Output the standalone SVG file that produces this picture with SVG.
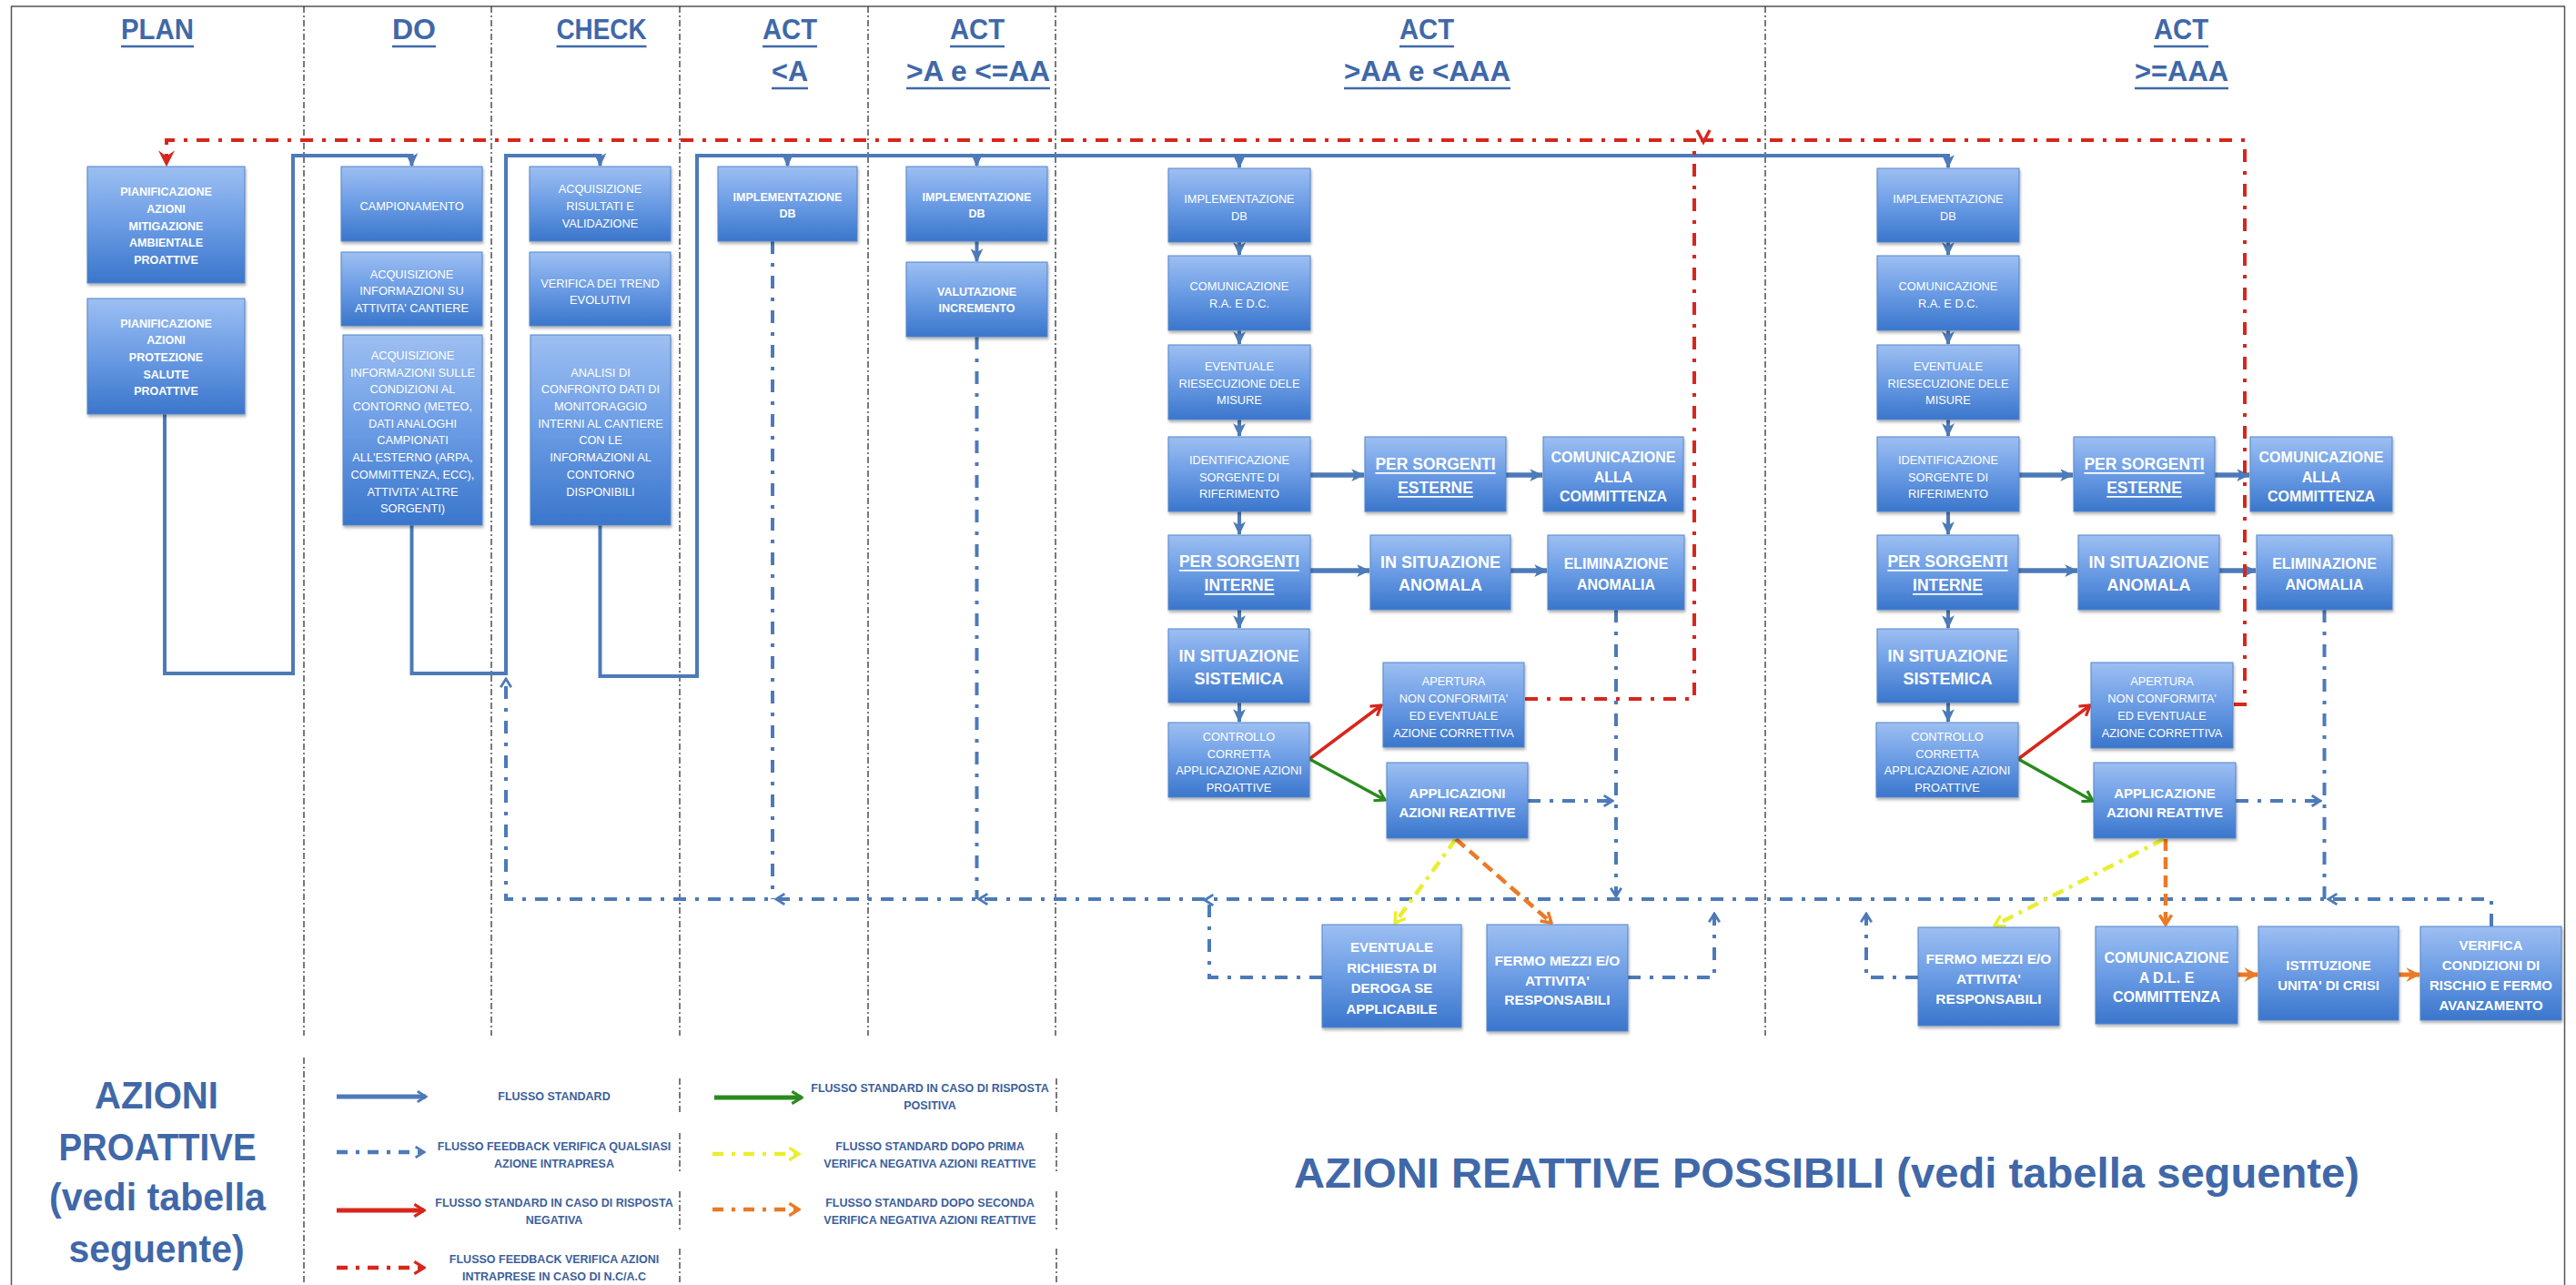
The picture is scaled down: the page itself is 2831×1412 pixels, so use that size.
<svg xmlns="http://www.w3.org/2000/svg" width="2831" height="1412" viewBox="0 0 2831 1412">
<style>
.bg{fill:#fff}
.box{fill:url(#bx);stroke:#5585c8;stroke-width:1;filter:url(#sh)}
.t{font-family:"Liberation Sans",Arial,sans-serif;fill:#fff;text-anchor:middle;dominant-baseline:central}
.t tspan{dominant-baseline:central}
.r{font-size:12.8px}
.bs{font-size:12.5px;font-weight:bold}
.b15{font-size:15px;font-weight:bold}
.b155{font-size:15.5px;font-weight:bold}
.b16{font-size:16px;font-weight:bold}
.bu{font-size:17.5px;font-weight:bold;text-decoration:underline}
.b18{font-size:18px;font-weight:bold}
.hdr{font-family:"Liberation Sans",Arial,sans-serif;font-weight:bold;font-size:31.5px;fill:#4068a8;text-anchor:middle}
.ul{stroke:#4068a8;stroke-width:2.5}
.big{font-family:"Liberation Sans",Arial,sans-serif;font-weight:bold;fill:#4068a8;text-anchor:middle}
.lg{font-family:"Liberation Sans",Arial,sans-serif;font-weight:bold;font-size:12.5px;fill:#3c5f9c;text-anchor:middle;dominant-baseline:central}
.lane{stroke:#333;stroke-width:1.3;stroke-dasharray:7 3 2 3;fill:none}
.flow{fill:none;stroke:#4d7ab8;stroke-width:4}
.thick{fill:none;stroke:#4d7ab8;stroke-width:5.5}
.fb{fill:none;stroke:#4d7ab8;stroke-width:4;stroke-dasharray:14 10 4 10}
.rfb{fill:none;stroke:#d8261c;stroke-width:4;stroke-dasharray:14 10 4 10}
.red{fill:none;stroke:#d8261c;stroke-width:3.5}
.grn{fill:none;stroke:#2a8a1e;stroke-width:3.5}
.yel{fill:none;stroke:#eaee30;stroke-width:4.5;stroke-dasharray:13 7 4 7}
.org{fill:none;stroke:#ea7a26;stroke-width:4.5;stroke-dasharray:13 7}
.orgs{fill:none;stroke:#ea7a26;stroke-width:5}
.ah{fill:none;stroke:none}
</style>
<defs>
<linearGradient id="bx" x1="0" y1="0" x2="0" y2="1">
<stop offset="0" stop-color="#9dbff2"/>
<stop offset="0.45" stop-color="#6f9fe6"/>
<stop offset="1" stop-color="#3a76cc"/>
</linearGradient>
<filter id="sh" x="-5%" y="-5%" width="115%" height="125%">
<feDropShadow dx="1" dy="2.5" stdDeviation="1.5" flood-color="#000" flood-opacity="0.3"/>
</filter>
<marker id="ab" viewBox="0 0 12 12" refX="11" refY="6" markerWidth="15" markerHeight="15" markerUnits="userSpaceOnUse" orient="auto"><path d="M0,0.5 L12,6 L0,11.5 L3,6 z" fill="#4d7ab8"/></marker>
<marker id="ob" viewBox="0 0 12 12" refX="10.5" refY="6" markerWidth="14" markerHeight="14" markerUnits="userSpaceOnUse" orient="auto"><path d="M2.5,1 L10.5,6 L2.5,11" fill="none" stroke="#4d7ab8" stroke-width="2.4"/></marker>
<marker id="or" viewBox="0 0 12 12" refX="10.5" refY="6" markerWidth="16" markerHeight="16" markerUnits="userSpaceOnUse" orient="auto"><path d="M2.5,1 L10.5,6 L2.5,11" fill="none" stroke="#d8261c" stroke-width="2.4"/></marker>
<marker id="og" viewBox="0 0 12 12" refX="10.5" refY="6" markerWidth="16" markerHeight="16" markerUnits="userSpaceOnUse" orient="auto"><path d="M2.5,1 L10.5,6 L2.5,11" fill="none" stroke="#2a8a1e" stroke-width="2.4"/></marker>
<marker id="oy" viewBox="0 0 12 12" refX="10.5" refY="6" markerWidth="16" markerHeight="16" markerUnits="userSpaceOnUse" orient="auto"><path d="M2.5,1 L10.5,6 L2.5,11" fill="none" stroke="#eaee30" stroke-width="2.6"/></marker>
<marker id="oo" viewBox="0 0 12 12" refX="10.5" refY="6" markerWidth="16" markerHeight="16" markerUnits="userSpaceOnUse" orient="auto"><path d="M2.5,1 L10.5,6 L2.5,11" fill="none" stroke="#ea7a26" stroke-width="2.6"/></marker>
<marker id="rv" viewBox="0 0 14 14" refX="13" refY="7" markerWidth="18" markerHeight="18" markerUnits="userSpaceOnUse" orient="auto"><path d="M0,0 L14,7 L0,14 L5,7 z" fill="#d8261c"/></marker>
<marker id="of" viewBox="0 0 14 14" refX="13" refY="7" markerWidth="16" markerHeight="16" markerUnits="userSpaceOnUse" orient="auto"><path d="M0,0 L14,7 L0,14 L5,7 z" fill="#ea7a26"/></marker>
</defs>

<rect class="bg" x="0" y="0" width="2831" height="1412"/>

<g id="frame">
<rect x="12.5" y="7" width="2806" height="1420" fill="none" stroke="#555" stroke-width="1.5"/>
<path class="lane" d="M334,7 V1138 M540,7 V1138 M747,7 V1138 M954,7 V1138 M1160,7 V1138 M1940,7 V1138"/>
<path class="lane" d="M334,1162 V1412 M747,1185 V1223 M747,1245 V1289 M747,1309 V1352 M747,1372 V1412 M1161,1185 V1223 M1161,1245 V1289 M1161,1309 V1352 M1161,1372 V1412"/>
</g>

<g id="headers">
<text class="hdr" x="173" y="43" textLength="80" lengthAdjust="spacingAndGlyphs">PLAN</text>
<line class="ul" x1="133" y1="51" x2="213" y2="51"/>
<text class="hdr" x="455" y="43" textLength="48" lengthAdjust="spacingAndGlyphs">DO</text>
<line class="ul" x1="431" y1="51" x2="479" y2="51"/>
<text class="hdr" x="661" y="43" textLength="99" lengthAdjust="spacingAndGlyphs">CHECK</text>
<line class="ul" x1="611.5" y1="51" x2="710.5" y2="51"/>
<text class="hdr" x="868" y="43" textLength="60" lengthAdjust="spacingAndGlyphs">ACT</text>
<line class="ul" x1="838" y1="51" x2="898" y2="51"/>
<text class="hdr" x="868" y="89" textLength="40" lengthAdjust="spacingAndGlyphs">&lt;A</text>
<line class="ul" x1="848" y1="97" x2="888" y2="97"/>
<text class="hdr" x="1074" y="43" textLength="60" lengthAdjust="spacingAndGlyphs">ACT</text>
<line class="ul" x1="1044" y1="51" x2="1104" y2="51"/>
<text class="hdr" x="1075" y="89" textLength="158" lengthAdjust="spacingAndGlyphs">&gt;A e &lt;=AA</text>
<line class="ul" x1="996" y1="97" x2="1154" y2="97"/>
<text class="hdr" x="1568" y="43" textLength="60" lengthAdjust="spacingAndGlyphs">ACT</text>
<line class="ul" x1="1538" y1="51" x2="1598" y2="51"/>
<text class="hdr" x="1568.5" y="89" textLength="183" lengthAdjust="spacingAndGlyphs">&gt;AA e &lt;AAA</text>
<line class="ul" x1="1477" y1="97" x2="1660" y2="97"/>
<text class="hdr" x="2397" y="43" textLength="60" lengthAdjust="spacingAndGlyphs">ACT</text>
<line class="ul" x1="2367" y1="51" x2="2427" y2="51"/>
<text class="hdr" x="2397.5" y="89" textLength="103" lengthAdjust="spacingAndGlyphs">&gt;=AAA</text>
<line class="ul" x1="2346" y1="97" x2="2449" y2="97"/>
</g>

<g id="connectors">
<!-- standard flow -->
<path class="flow" d="M181,455 V740 H322 V171 H452.5 V182" marker-end="url(#ab)"/>
<path class="flow" d="M452.5,577 V740 H556 V171 H659.5 V182" marker-end="url(#ab)"/>
<path class="flow" d="M659.5,577 V743 H766 V171 H2141 V184" marker-end="url(#ab)"/>
<path class="flow" d="M865.5,171 V182" marker-end="url(#ab)"/>
<path class="flow" d="M1073.5,171 V182" marker-end="url(#ab)"/>
<path class="flow" d="M1362,171 V184" marker-end="url(#ab)"/>
<path class="flow" d="M1073.5,265 V287" marker-end="url(#ab)"/>
<path class="flow" d="M1362,266 V280" marker-end="url(#ab)"/>
<path class="flow" d="M1362,363 V378" marker-end="url(#ab)"/>
<path class="flow" d="M1362,461 V479" marker-end="url(#ab)"/>
<path class="flow" d="M1362,562 V587" marker-end="url(#ab)"/>
<path class="flow" d="M1362,670 V690" marker-end="url(#ab)"/>
<path class="flow" d="M1362,772 V793" marker-end="url(#ab)"/>
<path class="flow" d="M2141,266 V280" marker-end="url(#ab)"/>
<path class="flow" d="M2141,363 V378" marker-end="url(#ab)"/>
<path class="flow" d="M2141,461 V479" marker-end="url(#ab)"/>
<path class="flow" d="M2141,562 V587" marker-end="url(#ab)"/>
<path class="flow" d="M2141,670 V690" marker-end="url(#ab)"/>
<path class="flow" d="M2141,772 V793" marker-end="url(#ab)"/>
<path class="thick" d="M1440,522 H1499" marker-end="url(#ab)"/>
<path class="thick" d="M1655,522 H1695" marker-end="url(#ab)"/>
<path class="thick" d="M1440,627 H1505" marker-end="url(#ab)"/>
<path class="thick" d="M1660,627 H1700" marker-end="url(#ab)"/>
<path class="thick" d="M2219,522 H2278" marker-end="url(#ab)"/>
<path class="thick" d="M2434,522 H2472" marker-end="url(#ab)"/>
<path class="thick" d="M2218,627 H2283" marker-end="url(#ab)"/>
<path class="thick" d="M2439,627 H2479" marker-end="url(#ab)"/>
<!-- negative / positive response -->
<path class="red" d="M1439,834 L1518,775" marker-end="url(#or)"/>
<path class="grn" d="M1439,834 L1522,879" marker-end="url(#og)"/>
<path class="red" d="M2218,834 L2297,775" marker-end="url(#or)"/>
<path class="grn" d="M2218,834 L2300,880" marker-end="url(#og)"/>
<!-- red feedback N.C./A.C. -->
<path class="rfb" d="M1676,768 H1862 V154 H183 V182" marker-end="url(#rv)"/>
<path class="rfb" d="M2455,774 H2467 V154 H1862"/>
<path d="M1865,143 L1872,156 L1879,143" fill="none" stroke="#d8261c" stroke-width="3.5"/>
<!-- blue feedback -->
<path class="fb" d="M2738,1018 V988 H556 V746" marker-end="url(#ob)"/>
<path class="fb" d="M849,265 V988"/>
<path class="ah" d="M872,988 H853" marker-end="url(#ob)"/>
<path class="fb" d="M1073.5,370 V988"/>
<path class="ah" d="M1096,988 H1076" marker-end="url(#ob)"/>
<path class="fb" d="M1776,670 V985" marker-end="url(#ob)"/>
<path class="fb" d="M1679,880 H1772" marker-end="url(#ob)"/>
<path class="fb" d="M2554.5,670 V988"/>
<path class="ah" d="M2580,988 H2559" marker-end="url(#ob)"/>
<path class="fb" d="M2457,880 H2550" marker-end="url(#ob)"/>
<path class="fb" d="M1453,1074 H1329 V990"/>
<path class="ah" d="M1344,989 H1324" marker-end="url(#ob)"/>
<path class="fb" d="M1789,1074 H1884 V1004" marker-end="url(#ob)"/>
<path class="fb" d="M2108,1074 H2051 V1004" marker-end="url(#ob)"/>
<!-- reactive actions verification -->
<path class="yel" d="M1600,922 L1533,1014" marker-end="url(#oy)"/>
<path class="org" d="M1600,922 L1705,1014" marker-end="url(#oo)"/>
<path class="yel" d="M2378,922 L2192,1017" marker-end="url(#oy)"/>
<path class="org" d="M2380,922 V1016" marker-end="url(#oo)"/>
<path class="orgs" d="M2459,1071 H2481" marker-end="url(#of)"/>
<path class="orgs" d="M2636,1071 H2659" marker-end="url(#of)"/>
</g>

<g id="plan-1"><rect class="box" x="96" y="183" width="173" height="128"/>
<text class="t bs"><tspan x="182.5" y="211">PIANIFICAZIONE</tspan><tspan x="182.5" y="230">AZIONI</tspan><tspan x="182.5" y="248.5">MITIGAZIONE</tspan><tspan x="182.5" y="267">AMBIENTALE</tspan><tspan x="182.5" y="286">PROATTIVE</tspan></text></g>
<g id="plan-2"><rect class="box" x="96" y="328" width="173" height="127"/>
<text class="t bs"><tspan x="182.5" y="355.6">PIANIFICAZIONE</tspan><tspan x="182.5" y="374.3">AZIONI</tspan><tspan x="182.5" y="393">PROTEZIONE</tspan><tspan x="182.5" y="411.7">SALUTE</tspan><tspan x="182.5" y="430.4">PROATTIVE</tspan></text></g>

<g id="do-1"><rect class="box" x="375" y="183" width="155" height="82"/>
<text class="t r"><tspan x="452.5" y="226">CAMPIONAMENTO</tspan></text></g>
<g id="do-2"><rect class="box" x="375" y="277" width="155" height="81"/>
<text class="t r"><tspan x="452.5" y="300.5">ACQUISIZIONE</tspan><tspan x="452.5" y="319.2">INFORMAZIONI SU</tspan><tspan x="452.5" y="337.9">ATTIVITA' CANTIERE</tspan></text></g>
<g id="do-3"><rect class="box" x="377" y="368" width="153" height="209"/>
<text class="t r"><tspan x="453.5" y="389.9">ACQUISIZIONE</tspan><tspan x="453.5" y="408.6">INFORMAZIONI SULLE</tspan><tspan x="453.5" y="427.3">CONDIZIONI AL</tspan><tspan x="453.5" y="446">CONTORNO (METEO,</tspan><tspan x="453.5" y="464.7">DATI ANALOGHI</tspan><tspan x="453.5" y="483.4">CAMPIONATI</tspan><tspan x="453.5" y="502.1">ALL'ESTERNO (ARPA,</tspan><tspan x="453.5" y="520.8">COMMITTENZA, ECC),</tspan><tspan x="453.5" y="539.5">ATTIVITA' ALTRE</tspan><tspan x="453.5" y="558.2">SORGENTI)</tspan></text></g>

<g id="check-1"><rect class="box" x="582" y="183" width="155" height="82"/>
<text class="t r"><tspan x="659.5" y="207.3">ACQUISIZIONE</tspan><tspan x="659.5" y="226">RISULTATI E</tspan><tspan x="659.5" y="244.7">VALIDAZIONE</tspan></text></g>
<g id="check-2"><rect class="box" x="582" y="277" width="155" height="81"/>
<text class="t r"><tspan x="659.5" y="310.6">VERIFICA DEI TREND</tspan><tspan x="659.5" y="329.3">EVOLUTIVI</tspan></text></g>
<g id="check-3"><rect class="box" x="583" y="368" width="154" height="209"/>
<text class="t r"><tspan x="660" y="408.6">ANALISI DI</tspan><tspan x="660" y="427.3">CONFRONTO DATI DI</tspan><tspan x="660" y="446">MONITORAGGIO</tspan><tspan x="660" y="464.7">INTERNI AL CANTIERE</tspan><tspan x="660" y="483.4">CON LE</tspan><tspan x="660" y="502.1">INFORMAZIONI AL</tspan><tspan x="660" y="520.8">CONTORNO</tspan><tspan x="660" y="539.5">DISPONIBILI</tspan></text></g>

<g id="actA-1"><rect class="box" x="789" y="183" width="153" height="82"/>
<text class="t bs"><tspan x="865.5" y="216.5">IMPLEMENTAZIONE</tspan><tspan x="865.5" y="235">DB</tspan></text></g>
<g id="actB-1"><rect class="box" x="996" y="183" width="155" height="82"/>
<text class="t bs"><tspan x="1073.5" y="216.5">IMPLEMENTAZIONE</tspan><tspan x="1073.5" y="235">DB</tspan></text></g>
<g id="actB-2"><rect class="box" x="996" y="288" width="155" height="82"/>
<text class="t bs"><tspan x="1073.5" y="320.5">VALUTAZIONE</tspan><tspan x="1073.5" y="339">INCREMENTO</tspan></text></g>

<g id="actC-1"><rect class="box" x="1284" y="185" width="156" height="81"/>
<text class="t r"><tspan x="1362" y="218">IMPLEMENTAZIONE</tspan><tspan x="1362" y="236.7">DB</tspan></text></g>
<g id="actC-2"><rect class="box" x="1284" y="281" width="156" height="82"/>
<text class="t r"><tspan x="1362" y="314">COMUNICAZIONE</tspan><tspan x="1362" y="332.7">R.A. E D.C.</tspan></text></g>
<g id="actC-3"><rect class="box" x="1284" y="379" width="156" height="82"/>
<text class="t r"><tspan x="1362" y="402">EVENTUALE</tspan><tspan x="1362" y="420.7">RIESECUZIONE DELE</tspan><tspan x="1362" y="439.4">MISURE</tspan></text></g>
<g id="actC-4"><rect class="box" x="1284" y="480" width="156" height="82"/>
<text class="t r"><tspan x="1362" y="505">IDENTIFICAZIONE</tspan><tspan x="1362" y="523.7">SORGENTE DI</tspan><tspan x="1362" y="542.4">RIFERIMENTO</tspan></text></g>
<g id="actC-5"><rect class="box" x="1500" y="480" width="155" height="82"/>
<text class="t bu"><tspan x="1577.5" y="510">PER SORGENTI</tspan><tspan x="1577.5" y="536">ESTERNE</tspan></text></g>
<g id="actC-6"><rect class="box" x="1696" y="480" width="154" height="82"/>
<text class="t b16"><tspan x="1773" y="502">COMUNICAZIONE</tspan><tspan x="1773" y="523.5">ALLA</tspan><tspan x="1773" y="545">COMMITTENZA</tspan></text></g>
<g id="actC-7"><rect class="box" x="1284" y="588" width="156" height="82"/>
<text class="t bu"><tspan x="1362" y="617">PER SORGENTI</tspan><tspan x="1362" y="643">INTERNE</tspan></text></g>
<g id="actC-8"><rect class="box" x="1506" y="588" width="154" height="82"/>
<text class="t b18"><tspan x="1583" y="618">IN SITUAZIONE</tspan><tspan x="1583" y="643">ANOMALA</tspan></text></g>
<g id="actC-9"><rect class="box" x="1701" y="588" width="150" height="82"/>
<text class="t b16"><tspan x="1776" y="619">ELIMINAZIONE</tspan><tspan x="1776" y="642">ANOMALIA</tspan></text></g>
<g id="actC-10"><rect class="box" x="1284" y="691" width="155" height="81"/>
<text class="t b18"><tspan x="1361.5" y="721">IN SITUAZIONE</tspan><tspan x="1361.5" y="746">SISTEMICA</tspan></text></g>
<g id="actC-11"><rect class="box" x="1284" y="794" width="155" height="82"/>
<text class="t r"><tspan x="1361.5" y="809">CONTROLLO</tspan><tspan x="1361.5" y="827.7">CORRETTA</tspan><tspan x="1361.5" y="846.4">APPLICAZIONE AZIONI</tspan><tspan x="1361.5" y="865.1">PROATTIVE</tspan></text></g>
<g id="actC-12"><rect class="box" x="1520" y="728" width="155" height="93"/>
<text class="t r"><tspan x="1597.5" y="748">APERTURA</tspan><tspan x="1597.5" y="767">NON CONFORMITA'</tspan><tspan x="1597.5" y="786">ED EVENTUALE</tspan><tspan x="1597.5" y="805">AZIONE CORRETTIVA</tspan></text></g>
<g id="actC-13"><rect class="box" x="1524" y="838" width="155" height="83"/>
<text class="t b15"><tspan x="1601.5" y="871">APPLICAZIONI</tspan><tspan x="1601.5" y="892">AZIONI REATTIVE</tspan></text></g>
<g id="actC-14"><rect class="box" x="1453" y="1016" width="153" height="113"/>
<text class="t b15"><tspan x="1529.5" y="1040">EVENTUALE</tspan><tspan x="1529.5" y="1062.5">RICHIESTA DI</tspan><tspan x="1529.5" y="1085">DEROGA SE</tspan><tspan x="1529.5" y="1107.5">APPLICABILE</tspan></text></g>
<g id="actC-15"><rect class="box" x="1634" y="1016" width="155" height="117"/>
<text class="t b155"><tspan x="1711.5" y="1055">FERMO MEZZI E/O</tspan><tspan x="1711.5" y="1076.5">ATTIVITA'</tspan><tspan x="1711.5" y="1098">RESPONSABILI</tspan></text></g>

<g id="actD-1"><rect class="box" x="2063" y="185" width="156" height="81"/>
<text class="t r"><tspan x="2141" y="218">IMPLEMENTAZIONE</tspan><tspan x="2141" y="236.7">DB</tspan></text></g>
<g id="actD-2"><rect class="box" x="2063" y="281" width="156" height="82"/>
<text class="t r"><tspan x="2141" y="314">COMUNICAZIONE</tspan><tspan x="2141" y="332.7">R.A. E D.C.</tspan></text></g>
<g id="actD-3"><rect class="box" x="2063" y="379" width="156" height="82"/>
<text class="t r"><tspan x="2141" y="402">EVENTUALE</tspan><tspan x="2141" y="420.7">RIESECUZIONE DELE</tspan><tspan x="2141" y="439.4">MISURE</tspan></text></g>
<g id="actD-4"><rect class="box" x="2063" y="480" width="156" height="82"/>
<text class="t r"><tspan x="2141" y="505">IDENTIFICAZIONE</tspan><tspan x="2141" y="523.7">SORGENTE DI</tspan><tspan x="2141" y="542.4">RIFERIMENTO</tspan></text></g>
<g id="actD-5"><rect class="box" x="2279" y="480" width="155" height="82"/>
<text class="t bu"><tspan x="2356.5" y="510">PER SORGENTI</tspan><tspan x="2356.5" y="536">ESTERNE</tspan></text></g>
<g id="actD-6"><rect class="box" x="2473" y="480" width="156" height="82"/>
<text class="t b16"><tspan x="2551" y="502">COMUNICAZIONE</tspan><tspan x="2551" y="523.5">ALLA</tspan><tspan x="2551" y="545">COMMITTENZA</tspan></text></g>
<g id="actD-7"><rect class="box" x="2063" y="588" width="155" height="82"/>
<text class="t bu"><tspan x="2140.5" y="617">PER SORGENTI</tspan><tspan x="2140.5" y="643">INTERNE</tspan></text></g>
<g id="actD-8"><rect class="box" x="2284" y="588" width="155" height="82"/>
<text class="t b18"><tspan x="2361.5" y="618">IN SITUAZIONE</tspan><tspan x="2361.5" y="643">ANOMALA</tspan></text></g>
<g id="actD-9"><rect class="box" x="2480" y="588" width="149" height="82"/>
<text class="t b16"><tspan x="2554.5" y="619">ELIMINAZIONE</tspan><tspan x="2554.5" y="642">ANOMALIA</tspan></text></g>
<g id="actD-10"><rect class="box" x="2063" y="691" width="155" height="81"/>
<text class="t b18"><tspan x="2140.5" y="721">IN SITUAZIONE</tspan><tspan x="2140.5" y="746">SISTEMICA</tspan></text></g>
<g id="actD-11"><rect class="box" x="2062" y="794" width="156" height="82"/>
<text class="t r"><tspan x="2140" y="809">CONTROLLO</tspan><tspan x="2140" y="827.7">CORRETTA</tspan><tspan x="2140" y="846.4">APPLICAZIONE AZIONI</tspan><tspan x="2140" y="865.1">PROATTIVE</tspan></text></g>
<g id="actD-12"><rect class="box" x="2298" y="728" width="156" height="94"/>
<text class="t r"><tspan x="2376" y="748">APERTURA</tspan><tspan x="2376" y="767">NON CONFORMITA'</tspan><tspan x="2376" y="786">ED EVENTUALE</tspan><tspan x="2376" y="805">AZIONE CORRETTIVA</tspan></text></g>
<g id="actD-13"><rect class="box" x="2301" y="838" width="156" height="83"/>
<text class="t b15"><tspan x="2379" y="871">APPLICAZIONE</tspan><tspan x="2379" y="892">AZIONI REATTIVE</tspan></text></g>
<g id="actD-14"><rect class="box" x="2108" y="1019" width="155" height="108"/>
<text class="t b155"><tspan x="2185.5" y="1053">FERMO MEZZI E/O</tspan><tspan x="2185.5" y="1075">ATTIVITA'</tspan><tspan x="2185.5" y="1097">RESPONSABILI</tspan></text></g>
<g id="actD-15"><rect class="box" x="2303" y="1018" width="156" height="107"/>
<text class="t b16"><tspan x="2381" y="1052">COMUNICAZIONE</tspan><tspan x="2381" y="1073.5">A D.L. E</tspan><tspan x="2381" y="1095">COMMITTENZA</tspan></text></g>
<g id="actD-16"><rect class="box" x="2482" y="1018" width="154" height="103"/>
<text class="t b15"><tspan x="2559" y="1060">ISTITUZIONE</tspan><tspan x="2559" y="1082">UNITA' DI CRISI</tspan></text></g>
<g id="actD-17"><rect class="box" x="2660" y="1018" width="155" height="103"/>
<text class="t b15"><tspan x="2737.5" y="1038">VERIFICA</tspan><tspan x="2737.5" y="1060">CONDIZIONI DI</tspan><tspan x="2737.5" y="1082">RISCHIO E FERMO</tspan><tspan x="2737.5" y="1104">AVANZAMENTO</tspan></text></g>

<g id="titles">
<text class="big" font-size="42" x="172" y="1218" textLength="136" lengthAdjust="spacingAndGlyphs">AZIONI</text>
<text class="big" font-size="42" x="173" y="1275" textLength="217" lengthAdjust="spacingAndGlyphs">PROATTIVE</text>
<text class="big" font-size="42" x="173" y="1330" textLength="238" lengthAdjust="spacingAndGlyphs">(vedi tabella</text>
<text class="big" font-size="42" x="172" y="1387" textLength="193" lengthAdjust="spacingAndGlyphs">seguente)</text>
<text class="big" font-size="47" x="2007.5" y="1305" textLength="1171" lengthAdjust="spacingAndGlyphs">AZIONI REATTIVE POSSIBILI (vedi tabella seguente)</text>
</g>

<g id="legend">
<path d="M370,1205 H468" fill="none" stroke="#4d7ab8" stroke-width="5" marker-end="url(#ob)"/>
<path d="M370,1266 H466" fill="none" stroke="#4d7ab8" stroke-width="4.5" stroke-dasharray="12 9 4 9" marker-end="url(#ob)"/>
<path d="M370,1330 H466" fill="none" stroke="#d8261c" stroke-width="5" marker-end="url(#or)"/>
<path d="M370,1393 H466" fill="none" stroke="#d8261c" stroke-width="4.5" stroke-dasharray="12 9 4 9" marker-end="url(#or)"/>
<path d="M785,1206 H881" fill="none" stroke="#2a8a1e" stroke-width="5" marker-end="url(#og)"/>
<path d="M783,1268 H878" fill="none" stroke="#eaee30" stroke-width="4.5" stroke-dasharray="12 9 4 9" marker-end="url(#oy)"/>
<path d="M783,1329 H878" fill="none" stroke="#ea7a26" stroke-width="4.5" stroke-dasharray="12 9 4 9" marker-end="url(#oo)"/>
<text class="lg"><tspan x="609" y="1205">FLUSSO STANDARD</tspan></text>
<text class="lg"><tspan x="609" y="1260">FLUSSO FEEDBACK VERIFICA QUALSIASI</tspan><tspan x="609" y="1279">AZIONE INTRAPRESA</tspan></text>
<text class="lg"><tspan x="609" y="1322">FLUSSO STANDARD IN CASO DI RISPOSTA</tspan><tspan x="609" y="1341">NEGATIVA</tspan></text>
<text class="lg"><tspan x="609" y="1384">FLUSSO FEEDBACK VERIFICA AZIONI</tspan><tspan x="609" y="1403">INTRAPRESE IN CASO DI N.C/A.C</tspan></text>
<text class="lg"><tspan x="1022" y="1196">FLUSSO STANDARD IN CASO DI RISPOSTA</tspan><tspan x="1022" y="1215">POSITIVA</tspan></text>
<text class="lg"><tspan x="1022" y="1260">FLUSSO STANDARD DOPO PRIMA</tspan><tspan x="1022" y="1279">VERIFICA NEGATIVA AZIONI REATTIVE</tspan></text>
<text class="lg"><tspan x="1022" y="1322">FLUSSO STANDARD DOPO SECONDA</tspan><tspan x="1022" y="1341">VERIFICA NEGATIVA AZIONI REATTIVE</tspan></text>
</g>
</svg>
